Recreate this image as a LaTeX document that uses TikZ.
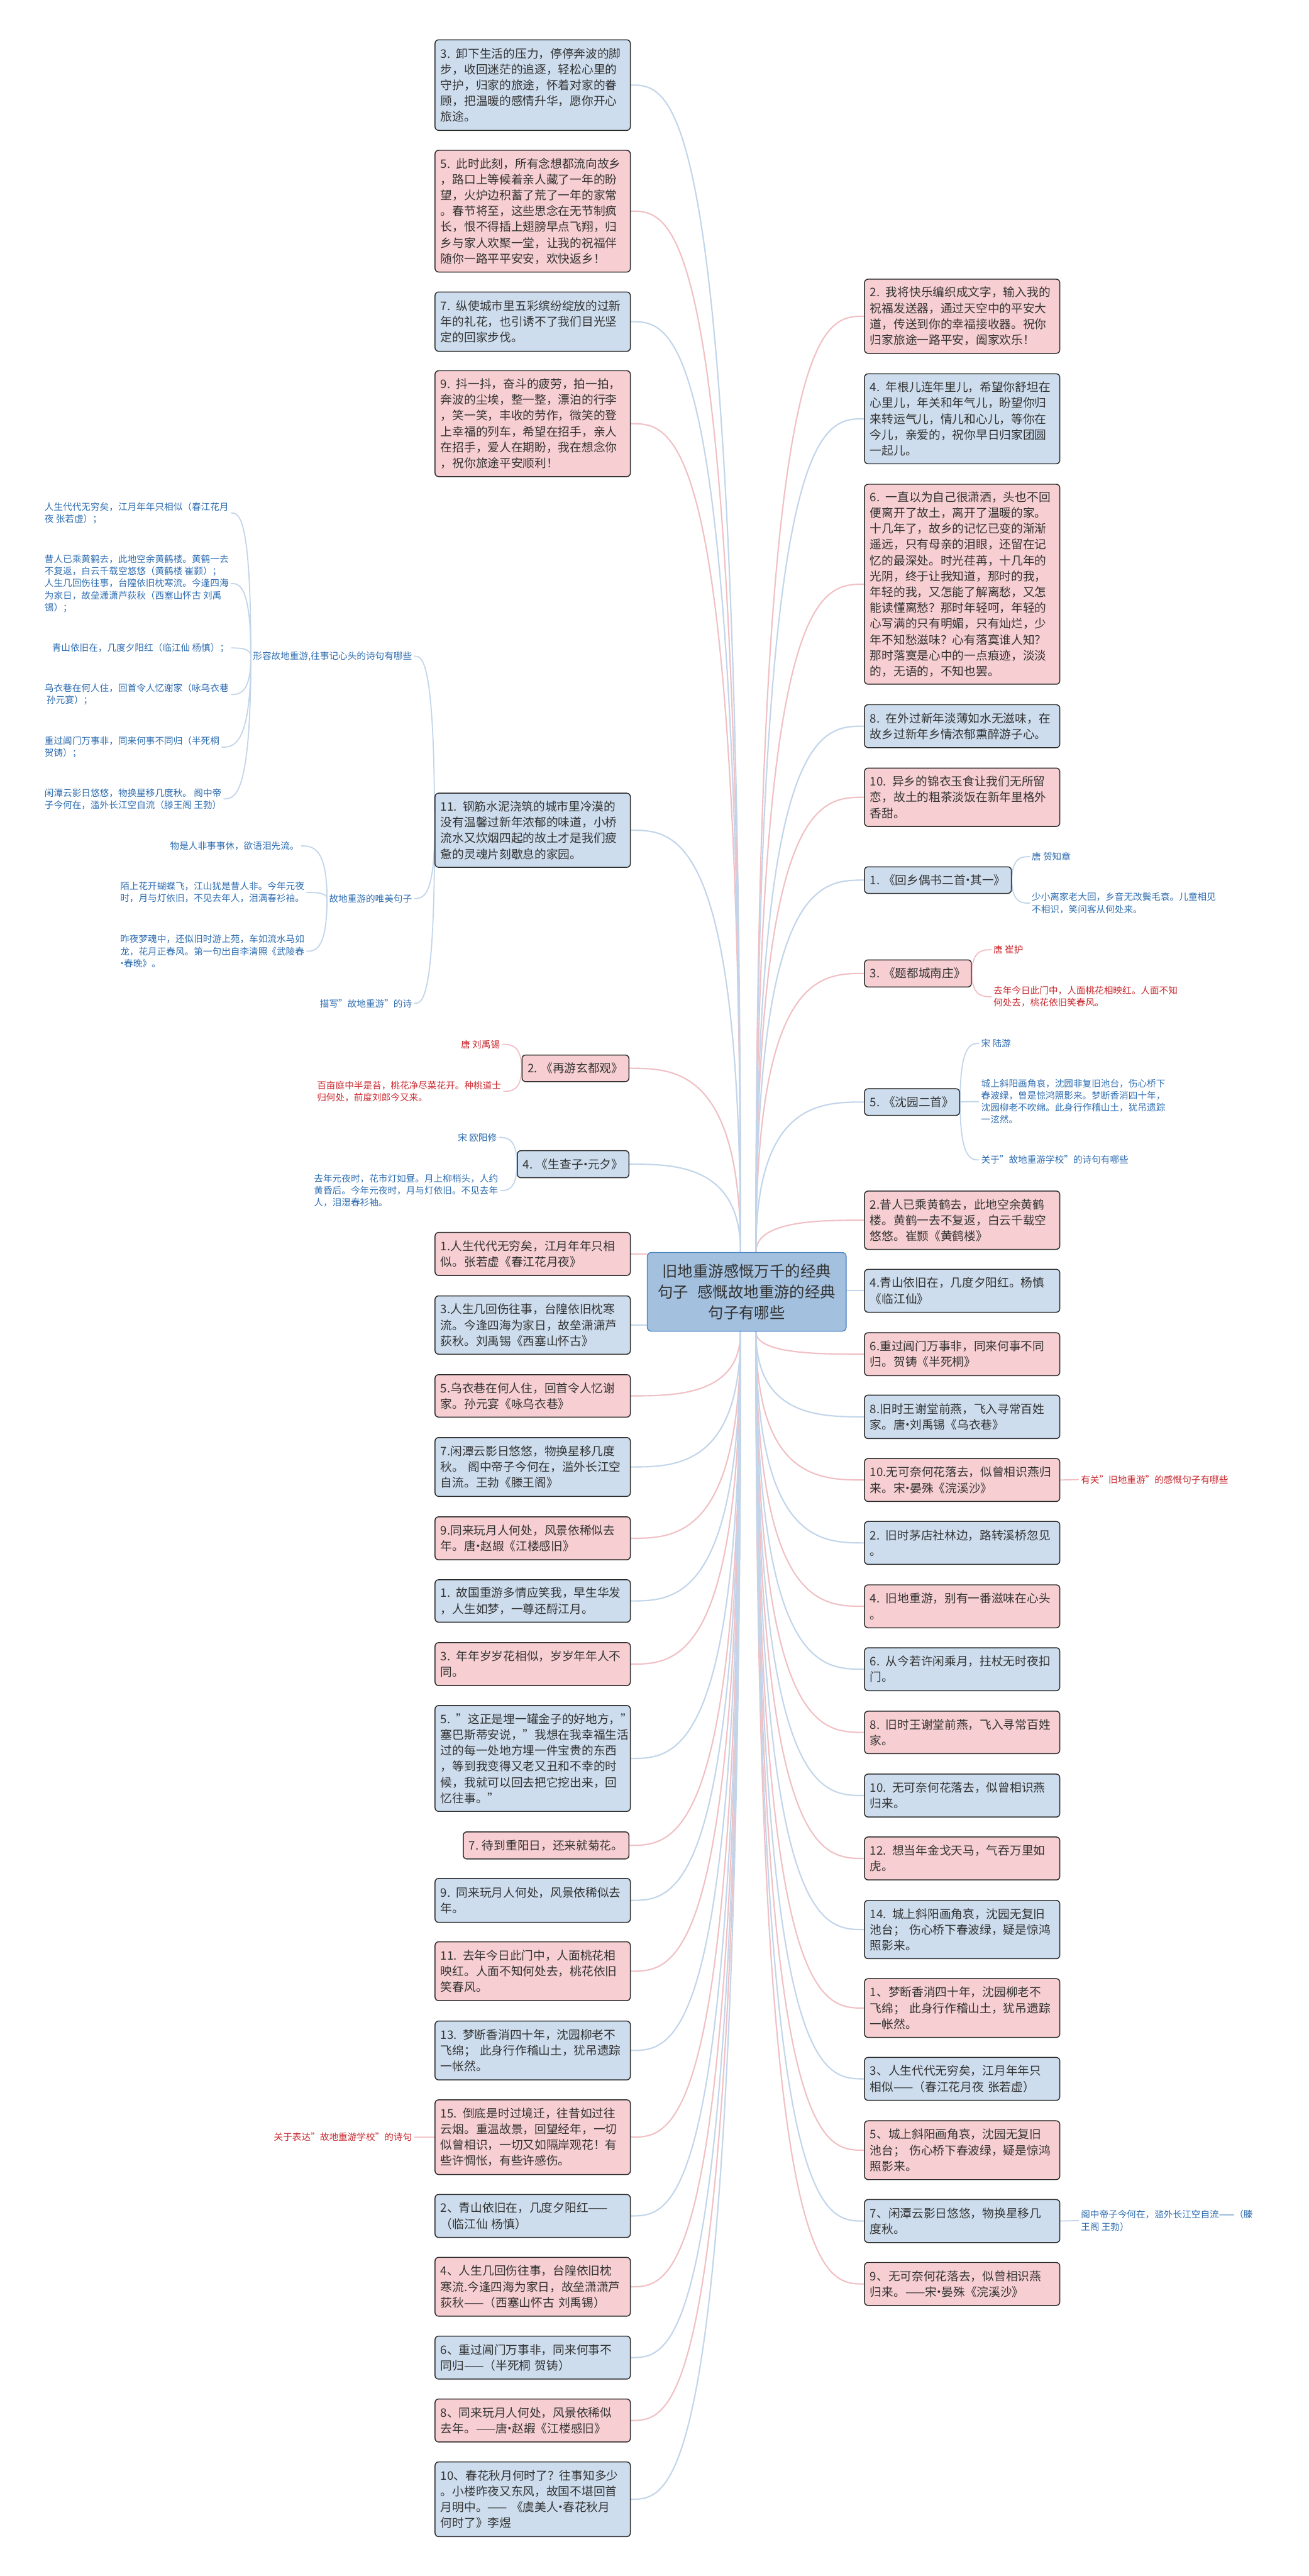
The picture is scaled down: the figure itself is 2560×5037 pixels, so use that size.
\documentclass[tikz,border=0pt]{standalone}
\usepackage{fontspec}
\setmainfont{Noto Sans CJK SC}
\usetikzlibrary{calc,positioning,backgrounds}

\definecolor{cardpink}{HTML}{F7CFD2}
\definecolor{cardblue}{HTML}{CDDDEE}
\definecolor{rootblue}{HTML}{A3C1DF}
\definecolor{rootedge}{HTML}{4A84C4}
\definecolor{edgegray}{HTML}{2A2A2A}
\definecolor{textgray}{HTML}{333333}
\definecolor{linkpink}{HTML}{F0C0C4}
\definecolor{linkblue}{HTML}{C2D5EA}
\definecolor{noteblue}{HTML}{2E6DB0}
\definecolor{notered}{HTML}{C8262C}

% curved link: leaves the start vertically, meets the end horizontally
\newcommand{\mmlink}[3]{\draw[#1] (#2) .. controls (#2 |- #3) and ($(#2 |- #3)!0.6!(#3)$) .. (#3);}
% narrow middle dot
\newcommand{\mdot}{\hspace{-0.3em}·\hspace{-0.3em}}

\begin{document}
\begin{tikzpicture}[x=1pt,y=-1pt,
  card/.style={draw=edgegray,line width=1.8pt,rounded corners=7pt,text=textgray,
    font=\fontsize{23}{31}\selectfont,align=left,inner xsep=11pt,inner ysep=0pt},
  wide/.style={text width=360pt,anchor=north west},
  pinkcard/.style={card,fill=cardpink},
  bluecard/.style={card,fill=cardblue},
  root/.style={draw=rootedge,fill=rootblue,line width=1.8pt,rounded corners=8pt,
    text=textgray,font=\fontsize{30}{41}\selectfont,align=center,
    minimum width=389pt,minimum height=154pt},
  note/.style={font=\fontsize{18}{23.5}\selectfont,align=left,inner sep=4pt},
  bluenote/.style={note,text=noteblue},
  rednote/.style={note,text=notered},
  pinklink/.style={draw=linkpink,line width=2.6pt},
  bluelink/.style={draw=linkblue,line width=2.6pt},
  pinktwig/.style={draw=linkpink,line width=2.2pt},
  bluetwig/.style={draw=linkblue,line width=2.2pt}]

\useasboundingbox (0,0) rectangle (2560,5037);

% Root
\node[root] (c) at (1460.5,2526) {旧地重游感慨万千的经典\\句子\hspace{18pt}感慨故地重游的经典\\句子有哪些};

\coordinate (ctl) at ($(c.north)+(-12,0)$);
\coordinate (ctr) at ($(c.north)+(18,0)$);
\coordinate (cbl) at ($(c.south)+(-12,0)$);
\coordinate (cbr) at ($(c.south)+(18,0)$);

% Left cards
\node[bluecard,wide,minimum height=177pt] (a3) at (850,77) {3. 卸下生活的压力，停停奔波的脚\\步，收回迷茫的追逐，轻松心里的\\守护，归家的旅途，怀着对家的眷\\顾，把温暖的感情升华，愿你开心\\旅途。};
\node[pinkcard,wide,minimum height=238pt] (a5) at (850,293) {5. 此时此刻，所有念想都流向故乡\\，路口上等候着亲人藏了一年的盼\\望，火炉边积蓄了荒了一年的家常\\。春节将至，这些思念在无节制疯\\长，恨不得插上翅膀早点飞翔，归\\乡与家人欢聚一堂，让我的祝福伴\\随你一路平平安安，欢快返乡！};
\node[bluecard,wide,minimum height=116pt] (a7) at (850,570) {7. 纵使城市里五彩缤纷绽放的过新\\年的礼花，也引诱不了我们目光坚\\定的回家步伐。};
\node[pinkcard,wide,minimum height=207pt] (a9) at (850,724) {9. 抖一抖，奋斗的疲劳，拍一拍，\\奔波的尘埃，整一整，漂泊的行李\\，笑一笑，丰收的劳作，微笑的登\\上幸福的列车，希望在招手，亲人\\在招手，爱人在期盼，我在想念你\\，祝你旅途平安顺利！};
\node[bluecard,wide,minimum height=145pt] (a11) at (850,1550) {11. 钢筋水泥浇筑的城市里冷漠的\\没有温馨过新年浓郁的味道，小桥\\流水又炊烟四起的故土才是我们疲\\惫的灵魂片刻歇息的家园。};
\node[pinkcard,anchor=north east,minimum height=52pt] (p2) at (1231,2062) {2. 《再游玄都观》};
\node[bluecard,anchor=north east,minimum height=53pt] (p4) at (1231,2249) {4. 《生查子\mdot 元夕》};
\node[pinkcard,wide,minimum height=84pt] (q1) at (850,2409) {1.人生代代无穷矣，江月年年只相\\似。张若虚《春江花月夜》};
\node[bluecard,wide,minimum height=114pt] (q3) at (850,2533) {3.人生几回伤往事，台隍依旧枕寒\\流。今逢四海为家日，故垒潇潇芦\\荻秋。刘禹锡《西塞山怀古》};
\node[pinkcard,wide,minimum height=83pt] (q5) at (850,2687) {5.乌衣巷在何人住，回首令人忆谢\\家。孙元宴《咏乌衣巷》};
\node[bluecard,wide,minimum height=115pt] (q7) at (850,2810) {7.闲潭云影日悠悠，物换星移几度\\秋。 阁中帝子今何在，滥外长江空\\自流。王勃《滕王阁》};
\node[pinkcard,wide,minimum height=84pt] (q9) at (850,2965) {9.同来玩月人何处，风景依稀似去\\年。唐\mdot 赵嘏《江楼感旧》};
\node[bluecard,wide,minimum height=83pt] (s1) at (850,3088) {1. 故国重游多情应笑我，早生华发\\，人生如梦，一尊还酹江月。};
\node[pinkcard,wide,minimum height=84pt] (s3) at (850,3211) {3. 年年岁岁花相似，岁岁年年人不\\同。};
\node[bluecard,wide,minimum height=207pt] (s5) at (850,3334) {5. "这正是埋一罐金子的好地方，"\\塞巴斯蒂安说，"我想在我幸福生活\\过的每一处地方埋一件宝贵的东西\\，等到我变得又老又丑和不幸的时\\候，我就可以回去把它挖出来，回\\忆往事。"};
\node[pinkcard,anchor=north east,minimum height=53pt] (s7) at (1231,3581) {7. 待到重阳日，还来就菊花。};
\node[bluecard,wide,minimum height=86pt] (s9) at (850,3672) {9. 同来玩月人何处，风景依稀似去\\年。};
\node[pinkcard,wide,minimum height=115pt] (s11) at (850,3796) {11. 去年今日此门中，人面桃花相\\映红。人面不知何处去，桃花依旧\\笑春风。};
\node[bluecard,wide,minimum height=115pt] (s13) at (850,3951) {13. 梦断香消四十年，沈园柳老不\\飞绵； 此身行作稽山土，犹吊遗踪\\一帐然。};
\node[pinkcard,wide,minimum height=146pt] (s15) at (850,4105) {15. 倒底是时过境迁，往昔如过往\\云烟。重温故景，回望经年，一切\\似曾相识，一切又如隔岸观花！有\\些许惆怅，有些许感伤。};
\node[bluecard,wide,minimum height=84pt] (t2) at (850,4290) {2、青山依旧在，几度夕阳红——\\（临江仙 杨慎）};
\node[pinkcard,wide,minimum height=115pt] (t4) at (850,4413) {4、人生几回伤往事，台隍依旧枕\\寒流.今逢四海为家日，故垒潇潇芦\\荻秋——（西塞山怀古 刘禹锡）};
\node[bluecard,wide,minimum height=84pt] (t6) at (850,4567) {6、重过阊门万事非，同来何事不\\同归——（半死桐 贺铸）};
\node[pinkcard,wide,minimum height=84pt] (t8) at (850,4690) {8、同来玩月人何处，风景依稀似\\去年。——唐\mdot 赵嘏《江楼感旧》};
\node[bluecard,wide,minimum height=146pt] (t10) at (850,4813) {10、春花秋月何时了？往事知多少\\。小楼昨夜又东风，故国不堪回首\\月明中。—— 《虞美人\mdot 春花秋月\\何时了》李煜};

% Right cards
\node[pinkcard,wide,minimum height=145pt] (b2) at (1690,545) {2. 我将快乐编织成文字，输入我的\\祝福发送器，通过天空中的平安大\\道，传送到你的幸福接收器。祝你\\归家旅途一路平安，阖家欢乐！};
\node[bluecard,wide,minimum height=176pt] (b4) at (1690,730) {4. 年根儿连年里儿，希望你舒坦在\\心里儿，年关和年气儿，盼望你归\\来转运气儿，情儿和心儿，等你在\\今儿，亲爱的，祝你早日归家团圆\\一起儿。};
\node[pinkcard,wide,minimum height=391pt] (b6) at (1690,946) {6. 一直以为自己很潇洒，头也不回\\便离开了故土，离开了温暖的家。\\十几年了，故乡的记忆已变的渐渐\\遥远，只有母亲的泪眼，还留在记\\忆的最深处。时光荏苒，十几年的\\光阴，终于让我知道，那时的我，\\年轻的我，又怎能了解离愁，又怎\\能读懂离愁？那时年轻呵，年轻的\\心写满的只有明媚，只有灿烂，少\\年不知愁滋味？心有落寞谁人知？\\那时落寞是心中的一点痕迹，淡淡\\的，无语的，不知也罢。};
\node[bluecard,wide,minimum height=84pt] (b8) at (1690,1377) {8. 在外过新年淡薄如水无滋味，在\\故乡过新年乡情浓郁熏醉游子心。};
\node[pinkcard,wide,minimum height=114pt] (b10) at (1690,1501) {10. 异乡的锦衣玉食让我们无所留\\恋，故土的粗茶淡饭在新年里格外\\香甜。};
\node[bluecard,anchor=north west,minimum height=52pt] (h1) at (1690,1694) {1. 《回乡偶书二首\mdot 其一》};
\node[pinkcard,anchor=north west,minimum height=53pt] (h3) at (1690,1876) {3. 《题都城南庄》};
\node[bluecard,anchor=north west,minimum height=52pt] (h5) at (1690,2128) {5. 《沈园二首》};
\node[pinkcard,wide,minimum height=114pt] (m2) at (1690,2328) {2.昔人已乘黄鹤去，此地空余黄鹤\\楼。黄鹤一去不复返，白云千载空\\悠悠。崔颢《黄鹤楼》};
\node[bluecard,wide,minimum height=84pt] (m4) at (1690,2481) {4.青山依旧在，几度夕阳红。杨慎\\《临江仙》};
\node[pinkcard,wide,minimum height=84pt] (m6) at (1690,2605) {6.重过阊门万事非，同来何事不同\\归。贺铸《半死桐》};
\node[bluecard,wide,minimum height=85pt] (m8) at (1690,2727) {8.旧时王谢堂前燕，飞入寻常百姓\\家。唐\mdot 刘禹锡《乌衣巷》};
\node[pinkcard,wide,minimum height=84pt] (m10) at (1690,2851) {10.无可奈何花落去，似曾相识燕归\\来。宋\mdot 晏殊《浣溪沙》};
\node[bluecard,wide,minimum height=84pt] (n2) at (1690,2974) {2. 旧时茅店社林边，路转溪桥忽见\\。};
\node[pinkcard,wide,minimum height=84pt] (n4) at (1690,3098) {4. 旧地重游，别有一番滋味在心头\\。};
\node[bluecard,wide,minimum height=84pt] (n6) at (1690,3221) {6. 从今若许闲乘月，拄杖无时夜扣\\门。};
\node[pinkcard,wide,minimum height=83pt] (n8) at (1690,3345) {8. 旧时王谢堂前燕，飞入寻常百姓\\家。};
\node[bluecard,wide,minimum height=84pt] (n10) at (1690,3468) {10. 无可奈何花落去，似曾相识燕\\归来。};
\node[pinkcard,wide,minimum height=84pt] (n12) at (1690,3591) {12. 想当年金戈天马，气吞万里如\\虎。};
\node[bluecard,wide,minimum height=114pt] (n14) at (1690,3715) {14. 城上斜阳画角哀，沈园无复旧\\池台； 伤心桥下春波绿，疑是惊鸿\\照影来。};
\node[pinkcard,wide,minimum height=115pt] (u1) at (1690,3868) {1、梦断香消四十年，沈园柳老不\\飞绵； 此身行作稽山土，犹吊遗踪\\一帐然。};
\node[bluecard,wide,minimum height=84pt] (u3) at (1690,4022) {3、人生代代无穷矣，江月年年只\\相似——（春江花月夜 张若虚）};
\node[pinkcard,wide,minimum height=115pt] (u5) at (1690,4146) {5、城上斜阳画角哀，沈园无复旧\\池台； 伤心桥下春波绿，疑是惊鸿\\照影来。};
\node[bluecard,wide,minimum height=84pt] (u7) at (1690,4300) {7、闲潭云影日悠悠，物换星移几\\度秋。};
\node[pinkcard,wide,minimum height=84pt] (u9) at (1690,4423) {9、无可奈何花落去，似曾相识燕\\归来。——宋\mdot 晏殊《浣溪沙》};

% Branches of card 11
\node[bluenote,anchor=east] (g1) at (810,1283) {形容故地重游,往事记心头的诗句有哪些};
\node[bluenote,anchor=east] (g2) at (810,1757) {故地重游的唯美句子};
\node[bluenote,anchor=east] (g3) at (810,1962) {描写"故地重游"的诗};
\node[bluenote,anchor=west] (k1) at (83,1003) {人生代代无穷矣，江月年年只相似（春江花月\\夜 张若虚）；};
\node[bluenote,anchor=west] (k2) at (83,1141) {昔人已乘黄鹤去，此地空余黄鹤楼。黄鹤一去\\不复返，白云千载空悠悠（黄鹤楼 崔颢）；\\人生几回伤往事，台隍依旧枕寒流。今逢四海\\为家日，故垒潇潇芦荻秋（西塞山怀古 刘禹\\锡）；};
\node[bluenote,anchor=east] (k3) at (452,1267) {青山依旧在，几度夕阳红（临江仙 杨慎）；};
\node[bluenote,anchor=west] (k4) at (83,1358) {乌衣巷在何人住，回首令人忆谢家（咏乌衣巷\\\ 孙元宴）；};
\node[bluenote,anchor=west] (k5) at (83,1461) {重过阊门万事非，同来何事不同归（半死桐\\贺铸）；};
\node[bluenote,anchor=west] (k6) at (83,1562) {闲潭云影日悠悠，物换星移几度秋。 阁中帝\\子今何在，滥外长江空自流（滕王阁 王勃）};
\node[bluenote,anchor=east] (w1) at (589,1654) {物是人非事事休，欲语泪先流。};
\node[bluenote,anchor=west] (w2) at (231,1745) {陌上花开蝴蝶飞，江山犹是昔人非。今年元夜\\时，月与灯依旧，不见去年人，泪满春衫袖。};
\node[bluenote,anchor=west] (w3) at (231,1860) {昨夜梦魂中，还似旧时游上苑，车如流水马如\\龙，花月正春风。第一句出自李清照《武陵春\\\mdot 春晚》。};

% Notes of the poem cards
\node[rednote,anchor=east] (p2a) at (982,2042) {唐 刘禹锡};
\node[rednote,anchor=west] (p2b) at (616,2134) {百亩庭中半是苔，桃花净尽菜花开。种桃道士\\归何处，前度刘郎今又来。};
\node[bluenote,anchor=east] (p4a) at (976,2224) {宋 欧阳修};
\node[bluenote,anchor=west] (p4b) at (610,2328) {去年元夜时，花市灯如昼。月上柳梢头，人约\\黄昏后。今年元夜时，月与灯依旧。不见去年\\人，泪湿春衫袖。};
\node[rednote,anchor=east] (s15a) at (810,4179) {关于表达"故地重游学校"的诗句};
\node[bluenote,anchor=west] (h1a) at (2014,1675) {唐 贺知章};
\node[bluenote,anchor=west] (h1b) at (2014,1766) {少小离家老大回，乡音无改鬓毛衰。儿童相见\\不相识，笑问客从何处来。};
\node[rednote,anchor=west] (h3a) at (1939,1857) {唐 崔护};
\node[rednote,anchor=west] (h3b) at (1939,1949) {去年今日此门中，人面桃花相映红。人面不知\\何处去，桃花依旧笑春风。};
\node[bluenote,anchor=west] (h5a) at (1915,2040) {宋 陆游};
\node[bluenote,anchor=west] (h5b) at (1915,2154) {城上斜阳画角哀，沈园非复旧池台，伤心桥下\\春波绿，曾是惊鸿照影来。梦断香消四十年，\\沈园柳老不吹绵。此身行作稽山土，犹吊遗踪\\一泫然。};
\node[bluenote,anchor=west] (h5c) at (1915,2268) {关于"故地重游学校"的诗句有哪些};
\node[rednote,anchor=west] (m10a) at (2110,2893) {有关"旧地重游"的感慨句子有哪些};
\node[bluenote,anchor=west] (u7a) at (2110,4342) {阁中帝子今何在，滥外长江空自流——（滕\\王阁 王勃）};

\begin{scope}[on background layer]
\fill[white] (0,0) rectangle (2560,5037);

% Links from the root
\foreach \n in {a5,a9,p2} {\mmlink{pinklink}{ctl}{\n.east}}
\foreach \n in {a3,a7,a11,p4} {\mmlink{bluelink}{ctl}{\n.east}}
\foreach \n in {q5,q9,s3,s7,s11,s15,t4,t8} {\mmlink{pinklink}{cbl}{\n.east}}
\foreach \n in {q7,s1,s5,s9,s13,t2,t6,t10} {\mmlink{bluelink}{cbl}{\n.east}}
\foreach \n in {b2,b6,b10,h3,m2} {\mmlink{pinklink}{ctr}{\n.west}}
\foreach \n in {b4,b8,h1,h5} {\mmlink{bluelink}{ctr}{\n.west}}
\foreach \n in {m6,m10,n4,n8,n12,u1,u5,u9} {\mmlink{pinklink}{cbr}{\n.west}}
\foreach \n in {m8,n2,n6,n10,n14,u3,u7} {\mmlink{bluelink}{cbr}{\n.west}}
\draw[pinklink] (q1.east) -- (q1.east -| c.west);
\draw[bluelink] (q3.east) -- (q3.east -| c.west);
\draw[bluelink] (m4.west) -- (m4.west -| c.east);

% Twigs
\foreach \n in {g1,g2,g3} {\mmlink{bluetwig}{a11.west}{\n.east}}
\foreach \n in {k1,k2,k3,k4,k5,k6} {\mmlink{bluetwig}{g1.west}{\n.east}}
\foreach \n in {w1,w2,w3} {\mmlink{bluetwig}{g2.west}{\n.east}}
\foreach \n in {p2a,p2b} {\mmlink{pinktwig}{p2.west}{\n.east}}
\foreach \n in {p4a,p4b} {\mmlink{bluetwig}{p4.west}{\n.east}}
\foreach \n in {h1a,h1b} {\mmlink{bluetwig}{h1.east}{\n.west}}
\foreach \n in {h3a,h3b} {\mmlink{pinktwig}{h3.east}{\n.west}}
\foreach \n in {h5a,h5b,h5c} {\mmlink{bluetwig}{h5.east}{\n.west}}
\draw[pinktwig] (s15a.east) -- (s15.west);
\draw[pinktwig] (m10.east) -- (m10a.west);
\draw[bluetwig] (u7.east) -- (u7a.west);
\end{scope}

\end{tikzpicture}
\end{document}
